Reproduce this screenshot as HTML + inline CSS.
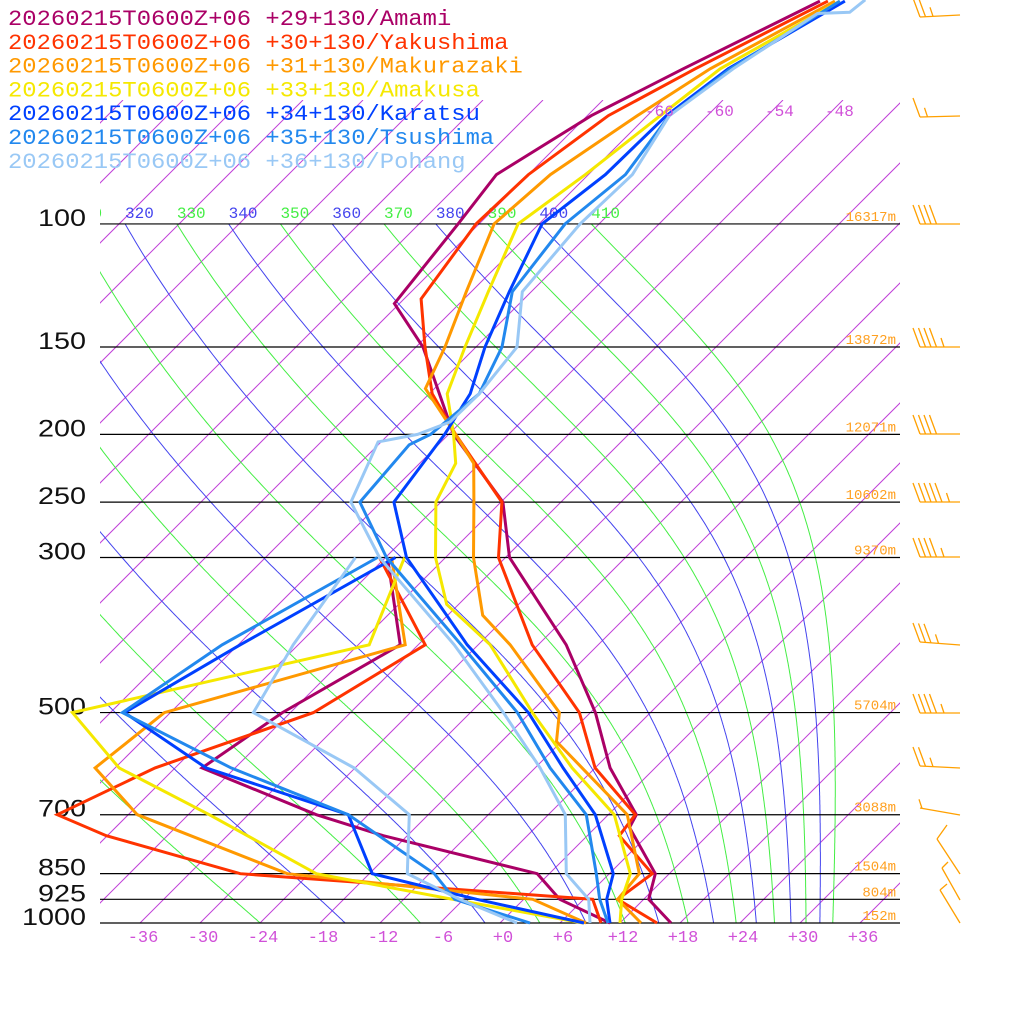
<!DOCTYPE html>
<html><head><meta charset="utf-8"><style>
html,body{margin:0;padding:0;background:#fff;}
svg{display:block;}
</style></head><body>
<svg id="chart" width="1024" height="1024" viewBox="0 0 1024 1024" xmlns="http://www.w3.org/2000/svg">
<defs>
<clipPath id="plotClip"><rect x="100" y="100" width="800" height="823"/></clipPath>
<clipPath id="adiaClip"><rect x="100" y="195" width="800" height="728"/></clipPath>
</defs>
<rect x="0" y="0" width="1024" height="1024" fill="#fff"/>
<g id="isotherms" clip-path="url(#plotClip)"></g>
<g id="adiabats" clip-path="url(#adiaClip)"></g>
<g id="plines"></g>
<g id="series"></g>
<g id="barbs" stroke="#ffa000" stroke-width="1.3" fill="none"></g>
<g id="legend"></g>
</svg>
<script>
// ---- data ----
const pressureLevels = [100,150,200,250,300,500,700,850,925,1000];
const heightLabels = ["16317m","13872m","12071m","10602m","9370m","5704m","3088m","1504m","804m","152m"];
const tempTicks = [-36,-30,-24,-18,-12,-6,0,6,12,18,24,30,36];
const isothermLabels = [-66,-60,-54,-48];
const thetaLabels = [310,320,330,340,350,360,370,380,390,400,410];

const amamiP  = [1000,925,850,730,700,600,500,400,300,250,200,150,130,100,85,70,60,48];
const amamiT  = [17.1,12.5,10.6,3.4,2.8,-4.5,-11.5,-21.2,-35.6,-41.8,-53.5,-65.3,-72.5,-74.1,-75.2,-71.6,-67.1,-60.2];
const amamiTdP = [1000,925,850,750,700,600,500,400,300];
const amamiTd  = [11.0,3.6,-1.2,-20.4,-29.2,-45.3,-42.8,-37.8,-47.8];

const yakuP  = [1000,925,850,750,700,600,500,400,300,250,200,175,150,128,100,85,70,60,48];
const yakuT  = [15.7,9.4,10.3,3.2,2.7,-6.0,-13.1,-24.6,-36.7,-41.9,-53.3,-59.7,-65.1,-70.3,-72.3,-72.0,-69.9,-65.9,-59.4];
const yakuTdP = [1000,925,850,750,700,600,500,400,300];
const yakuTd  = [10.1,6.9,-30.9,-48.1,-55.1,-50.0,-39.7,-35.3,-48.6];

const makuP  = [1000,925,850,700,600,550,500,400,363,300,250,220,200,172,150,125,100,85,70,60,48];
const makuT  = [14.1,9.4,9.0,1.9,-7.3,-12.5,-15.1,-26.8,-32.5,-39.2,-44.7,-48.6,-53.3,-60.9,-63.1,-66.5,-70.5,-69.8,-67.0,-64.4,-58.7];
const makuTdP = [1000,925,850,700,600,500,400,300];
const makuTd  = [8.6,0.9,-26.2,-47.1,-56.0,-54.6,-37.3,-47.4];

const amakP  = [1000,925,850,700,600,500,400,350,300,250,220,200,175,150,125,100,85,70,60,48];
const amakT  = [12.0,9.8,8.1,0.6,-8.3,-17.8,-28.8,-37.2,-43.0,-48.5,-50.4,-53.5,-58.2,-61.1,-64.3,-68.1,-66.3,-64.7,-63.4,-58.2];
const amakTdP = [1000,925,850,700,600,500,400,300];
const amakTd  = [8.3,-7.1,-23.3,-39.9,-53.6,-63.8,-40.9,-46.1];

const karaP  = [1000,925,850,700,600,500,400,300,250,200,175,150,125,100,85,70,60,48];
const karaT  = [11.0,8.3,6.4,-1.3,-9.2,-18.2,-31.1,-45.9,-52.7,-54.4,-55.9,-59.1,-62.2,-65.7,-64.3,-64.1,-62.6,-57.7];
const karaTdP = [1000,925,850,700,600,500,400,300];
const karaTd  = [8.4,-4.7,-17.7,-26.0,-44.9,-58.6,-53.8,-47.0];

const tsuP  = [1000,925,850,700,600,500,400,300,250,207,200,175,150,125,100,85,70,60,48];
const tsuT  = [10.8,7.6,4.7,-2.2,-10.5,-19.3,-31.7,-47.9,-56.1,-56.9,-55.8,-55.0,-57.4,-61.9,-63.4,-62.3,-63.8,-62.4,-58.2];
const tsuTdP = [1000,925,850,700,600,500,400,300];
const tsuTd  = [3.0,-6.9,-11.5,-26.0,-42.4,-58.8,-55.6,-48.8];

const pohP  = [1000,925,850,700,600,500,400,300,250,205,200,192,175,150,125,100,85,70,60,50,49.8,47.8];
const pohT  = [9.0,6.5,1.7,-4.3,-11.5,-20.7,-32.4,-48.6,-57.0,-60.3,-57.1,-55.1,-55.0,-55.9,-60.9,-61.9,-61.6,-63.8,-62.1,-59.2,-56.1,-55.8];
const pohTdP = [1000,925,850,700,600,500,400,300];
const pohTd  = [1.7,-6.4,-14.2,-19.9,-30.1,-45.7,-48.5,-51.0];

const seriesNames = ["20260215T0600Z+06 +29+130/Amami","20260215T0600Z+06 +30+130/Yakushima","20260215T0600Z+06 +31+130/Makurazaki","20260215T0600Z+06 +33+130/Amakusa","20260215T0600Z+06 +34+130/Karatsu","20260215T0600Z+06 +35+130/Tsushima","20260215T0600Z+06 +36+130/Pohang"];
const seriesColors = ["#aa0066","#ff3300","#ff9900","#f5e800","#0040ff","#2288ee","#99c8f5"];

// ---- axes ----
const NS = "http://www.w3.org/2000/svg";
const Y0 = 923, PX_PER_LN = 303.6;
function yOf(p){ return Y0 - PX_PER_LN*Math.log(1000/p); }
function xOf(t,p){ return 500 + 10*t + (Y0 - yOf(p)); }
function mk(tag, attrs, parent){ const e=document.createElementNS(NS,tag); for(const k in attrs) e.setAttribute(k,attrs[k]); parent.appendChild(e); return e; }

// isotherms
const gIso = document.getElementById('isotherms');
for(let t=-150; t<=40; t+=6){
  const x1 = 500+10*t, x2 = x1 + (Y0-100);
  const l = mk('line',{x1:x1,y1:Y0,x2:x2,y2:100,stroke:"#c040d8","stroke-width":1},gIso);
  
  
}
const svg = document.getElementById('chart');
isothermLabels.forEach(t=>{
  const x = 500+10*t+(Y0-115);
  const tx = mk('text',{x:x-3,y:116,fill:"#d050d8","font-family":"Liberation Mono, monospace","font-size":16},svg);
  tx.textContent = String(t);
  
  
});

// moist adiabats
function es(tc){ return 6.112*Math.exp(17.67*tc/(tc+243.5)); }
const gAd = document.getElementById('adiabats');
for(let th=250; th<=410; th+=10){
  let T = th*Math.pow(0.1,0.2857);
  let p = 100; const pts=[];
  pts.push([xOf(T-273.15,p), yOf(p)]);
  const dp = 2;
  while(p<1000){
    const e = es(T-273.15); const rs = 0.622*e/Math.max(p-e,1e-6);
    const dTdp = (287*T + 2.5e6*rs)/p/(1004 + (2.5e6*2.5e6*rs*0.622)/(287*T*T));
    T += dTdp*dp; p += dp;
    pts.push([xOf(T-273.15,p), yOf(p)]);
  }
  const col = (th%20===0)?"#4444ee":"#44ee44";
  const pl = mk('polyline',{points:pts.map(q=>q[0].toFixed(1)+","+q[1].toFixed(1)).join(" "),fill:"none",stroke:col,"stroke-width":1},gAd);
  
  
}
thetaLabels.forEach(th=>{
  const T = th*Math.pow(0.1,0.2857)-273.15;
  const tx = mk('text',{x:xOf(T,100),y:218,fill:(th%20===0)?"#4444ee":"#44ee44","font-family":"Liberation Mono, monospace","font-size":16},gAd);
  tx.textContent = String(th);
  
  
});

// pressure lines and labels
const gP = document.getElementById('plines');
pressureLevels.forEach((p,i)=>{
  const y = yOf(p);
  const l = mk('line',{x1:100,y1:y,x2:900,y2:y,stroke:"#000","stroke-width":1.2},gP);
  
  
  const s = String(p);
  const t = mk('text',{x:86,y:y+2,"text-anchor":"end",fill:"#111","font-family":"Liberation Sans, sans-serif","font-size":24,textLength:s.length*16,lengthAdjust:"spacingAndGlyphs"},gP);
  t.textContent = s;
  
  
  const h = mk('text',{x:896,y:y-3,"text-anchor":"end",fill:"#ffa020","font-family":"Liberation Mono, monospace","font-size":14},gP);
  h.textContent = heightLabels[i];
  
  
});
tempTicks.forEach(t=>{
  const tx = mk('text',{x:500+10*t+3,y:942,"text-anchor":"middle",fill:"#d050d8","font-family":"Liberation Mono, monospace","font-size":17},gP);
  tx.textContent = (t>=0?"+":"")+t;
  
  
});

// series
const gS = document.getElementById('series');
const allP = [amamiP,yakuP,makuP,amakP,karaP,tsuP,pohP];
const allT = [amamiT,yakuT,makuT,amakT,karaT,tsuT,pohT];
const allTdP = [amamiTdP,yakuTdP,makuTdP,amakTdP,karaTdP,tsuTdP,pohTdP];
const allTd = [amamiTd,yakuTd,makuTd,amakTd,karaTd,tsuTd,pohTd];
function pts(P,T){ return P.map((p,i)=>xOf(T[i],p).toFixed(1)+","+yOf(p).toFixed(1)).join(" "); }
for(let s=0;s<7;s++){
  const a = mk('polyline',{points:pts(allTdP[s],allTd[s]),fill:"none",stroke:seriesColors[s],"stroke-width":3,"stroke-linejoin":"miter"},gS);
  
  
  const b = mk('polyline',{points:pts(allP[s],allT[s]),fill:"none",stroke:seriesColors[s],"stroke-width":3,"stroke-linejoin":"miter"},gS);
  
  
}

// legend
const gL = document.getElementById('legend');
seriesNames.forEach((n,i)=>{
  const t = mk('text',{x:8,y:25+i*23.8,fill:seriesColors[i],"font-family":"Liberation Mono, monospace","font-size":22,textLength:n.length*14.3,lengthAdjust:"spacingAndGlyphs"},gL);
  t.textContent = n;
  
  
});

// wind barbs (decorative)
const gB = document.getElementById('barbs');
const barbDefs = [[15,-2,2,1],[116,-1,1,1],[224,0,4,0],[347,0,4,1],[434,0,4,0],[502,0,5,1],[557,0,4,1],[645,3,3,1],[713,0,4,1],[768,2,2,1],[815,7,0,1]];
barbDefs.forEach(d=>{
  const y=d[0], dy=d[1], full=d[2], half=d[3];
  const y0 = y - dy;
  const st = mk('line',{x1:920,y1:y0,x2:960,y2:y},gB);
  
  
  for(let k=0;k<full;k++){
    const bx = 920+k*5.5, by = y0 + dy*(k*5.5/40);
    mk('line',{x1:bx,y1:by,x2:bx-7,y2:by-19},gB);
  }
  if(half){
    const bx = 920+full*5.5+2, by = y0 + dy*((full*5.5+2)/40);
    mk('line',{x1:bx,y1:by,x2:bx-3,y2:by-9},gB);
  }
});
[[874,937,839,947,825],[900,942,868,948,862],[923,940,890,947,884]].forEach(d=>{
  const st = mk('line',{x1:960,y1:d[0],x2:d[1],y2:d[2]},gB);
  
  
  mk('line',{x1:d[1],y1:d[2],x2:d[3],y2:d[4]},gB);
});
</script>
</body></html>
